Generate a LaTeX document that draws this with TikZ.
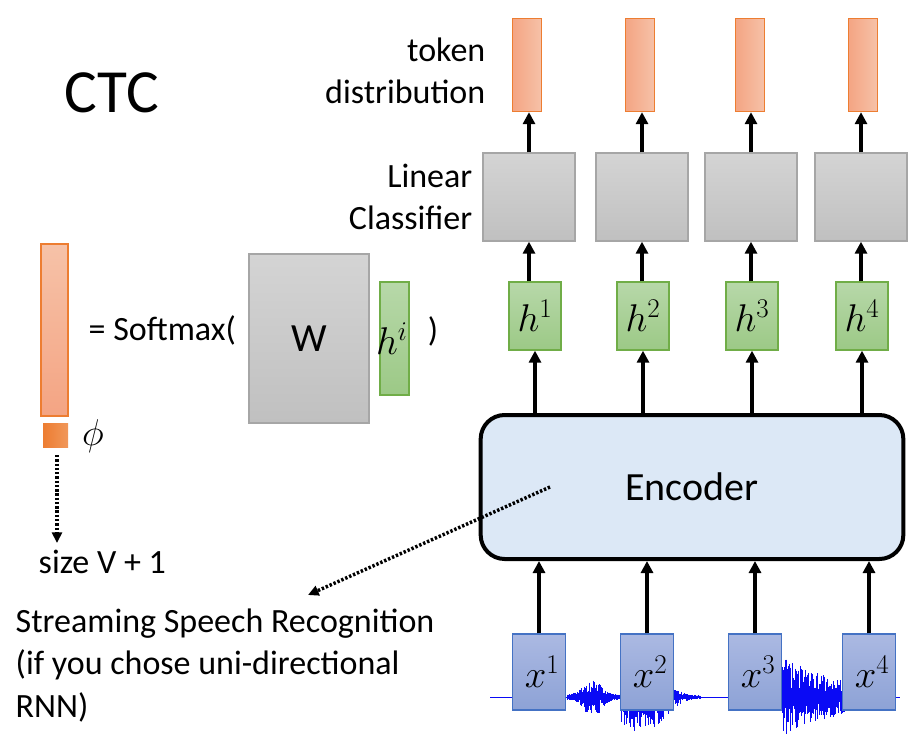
\RequirePackage{fix-cm}
\documentclass[tikz,border=0pt]{standalone}
\usepackage{fontspec}
\setmainfont{Carlito}
\usetikzlibrary{arrows.meta}
\usetikzlibrary{calc}

\definecolor{tokedge}{HTML}{ED7D31}
\definecolor{tokdark}{HTML}{F4A483}
\definecolor{toklight}{HTML}{F6C2A8}
\definecolor{grayedge}{HTML}{A6A6A6}
\definecolor{graytop}{HTML}{D4D4D4}
\definecolor{graybot}{HTML}{C0C0C0}
\definecolor{greenedge}{HTML}{70AD47}
\definecolor{greentop}{HTML}{B7D8A9}
\definecolor{greenbot}{HTML}{9CC986}
\definecolor{blueedge}{HTML}{4472C4}
\definecolor{bluetop}{HTML}{ABB9E2}
\definecolor{bluebot}{HTML}{8DA2D6}
\definecolor{encfill}{HTML}{DCE8F6}
\definecolor{wavecol}{HTML}{0A0AF5}

\tikzset{
  tokbar/.style={draw=tokedge, line width=1pt, left color=tokdark, right color=toklight, inner sep=0pt, minimum width=21.75pt, minimum height=69.75pt},
  lcbox/.style={draw=grayedge, line width=1pt, top color=graytop, bottom color=graybot, inner sep=0pt, minimum width=69pt, minimum height=66pt},
  hbox/.style={draw=greenedge, line width=1pt, top color=greentop, bottom color=greenbot, inner sep=0pt, minimum width=39pt, minimum height=51pt, font=\fontsize{29}{34}\selectfont},
  xbox/.style={draw=blueedge, line width=1pt, top color=bluetop, bottom color=bluebot, inner sep=0pt, minimum width=39.75pt, minimum height=57pt, font=\fontsize{29}{34}\selectfont},
  arr/.style={line width=3pt, -{Triangle[length=9pt,width=9pt]}},
  dotarr/.style={line width=2.6pt, dash pattern=on 1.8pt off 1.4pt, -{Triangle[length=8pt,width=7.5pt]}},
  wave/.style={wavecol, line width=0.6pt},
  lbl/.style={font=\fontsize{25.5}{31.5}\selectfont}
}

\begin{document}
\begin{tikzpicture}[x=0.75pt,y=-0.75pt]
\useasboundingbox (0,0) rectangle (920,735);

% waveform under the inputs
\pgfmathsetseed{11}
\draw[wave] (490,697) -- (900,697);
\foreach \x in {567,567.5,...,621} {
  \pgfmathsetmacro\u{2+15*exp(-((\x-592)^2)/180)*rnd}
  \pgfmathsetmacro\d{2+18*exp(-((\x-592)^2)/180)*rnd}
  \draw[wave] (\x,697-\u) -- (\x,697+\d);
}
\foreach \x in {621,621.5,...,700} {
  \pgfmathsetmacro\u{1+30*exp(-((\x-640)^2)/900)*rnd}
  \pgfmathsetmacro\d{1+38*exp(-((\x-640)^2)/900)*rnd}
  \draw[wave] (\x,697-\u) -- (\x,697+\d);
}
\foreach \x in {782,782.5,...,846} {
  \pgfmathsetmacro\u{3+40*exp(-(\x-782)/55)*rnd}
  \pgfmathsetmacro\d{3+36*exp(-(\x-782)/70)*rnd}
  \draw[wave] (\x,697-\u) -- (\x,697+\d);
}

% columns
\foreach \i/\xt/\xl/\xh/\xx in {1/527/529/535/539, 2/640/642/643/647, 3/750/751/752/755, 4/863/861/862/869} {
  \node[tokbar] (tok\i) at (\xt,65) {};
  \node[lcbox] (lc\i) at (\xl,197) {};
  \node[hbox] (h\i) at (\xh,316) {$h^{\i}$};
  \node[xbox] (x\i) at (\xx,672) {\,$x^{\i}$};
}

\node[draw, line width=3pt, fill=encfill, rounded corners=18pt, minimum width=317pt, minimum height=108pt, font=\fontsize{30}{34}\selectfont] (enc) at (692,487) {Encoder};

\foreach \i in {1,...,4} {
  \draw[arr] (lc\i.north) -- (lc\i.north |- tok\i.south);
  \draw[arr] (lc\i.south |- h\i.north) -- (lc\i.south);
  \draw[arr] (h\i.south |- enc.north) -- (h\i.south);
  \draw[arr] (x\i.north) -- (x\i.north |- enc.south);
}

\node[lbl, align=right, anchor=east] (toklbl) at (490,71) {token\\distribution};
\node[lbl, align=right, anchor=east] (lclbl) at (477,197) {Linear\\Classifier};
\node[font=\fontsize{46}{50}\selectfont] (ctc) at (112,93) {CTC};

% softmax formula
\node[draw=tokedge, line width=1pt, top color=toklight, bottom color=tokdark, inner sep=0pt, minimum width=20.25pt, minimum height=129pt] (dist) at (54.5,330) {};
\node[left color=tokedge, right color=tokedge!80!white, inner sep=0pt, minimum width=18.75pt, minimum height=18pt] (blank) at (55.5,435) {};
\node[font=\fontsize{28}{30}\selectfont] (phi) at (93,436) {$\phi$};
\node[lbl, anchor=west] (soft) at (84,330) {= Softmax(};
\node[draw=grayedge, line width=1pt, top color=graytop, bottom color=graybot, minimum width=90pt, minimum height=126.75pt, font=\fontsize{30}{34}\selectfont] (W) at (309,338.5) {W};
\node[draw=greenedge, line width=1pt, top color=greentop, bottom color=greenbot, inner sep=0pt, minimum width=21.75pt, minimum height=84.75pt] (hi) at (394.5,338.5) {};
\node[font=\fontsize{29}{34}\selectfont] at (hi) {\hspace*{-4pt}$h^{i}$};
\node[lbl] (close) at (433,331) {)};

\coordinate (sizetop) at (57,455);
\node[lbl, anchor=west] (size) at (34,562) {size V + 1};
\draw[dotarr] (sizetop) -- (57,543);

\node[font=\fontsize{25.5}{32}\selectfont, align=left, anchor=north west] (stream) at (11,604) {Streaming Speech Recognition\\(if you chose uni-directional\\RNN)};
\coordinate (encpt) at (550,487);
\draw[dotarr] (encpt) -- (308,595);

\end{tikzpicture}
\end{document}
